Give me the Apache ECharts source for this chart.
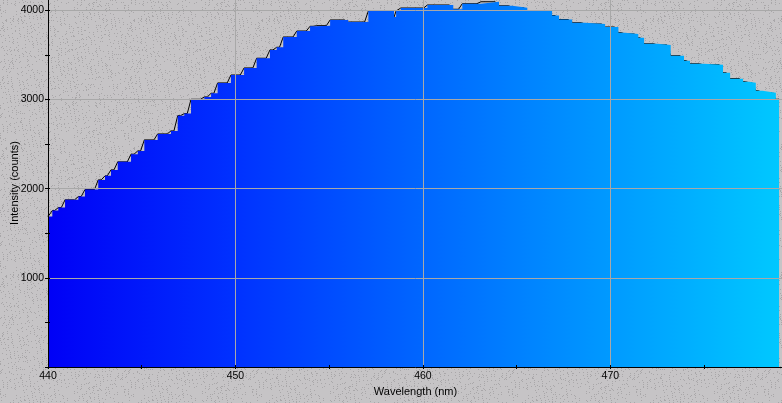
<!DOCTYPE html>
<html><head><meta charset="utf-8">
<script src="https://cdn.jsdelivr.net/npm/echarts@6/dist/echarts.min.js"></script>
<style>html,body{margin:0;padding:0;background:#c6c4c6;} #chart{width:782px;height:403px;}</style>
</head><body><div id="chart"></div>
<script>
// Left edge (nm) of each flat step of the spectrum and its intensity (counts)
const stepStart = [440.00, 440.23, 440.55, 440.91, 441.62, 441.97, 442.68, 443.04, 443.36, 443.72,
  444.43, 444.79, 445.14, 445.85, 446.56, 446.92, 447.27, 447.63, 448.34, 448.70,
  449.05, 449.76, 450.46, 451.13, 451.84, 452.20, 452.55, 453.27, 453.98, 454.34,
  455.05, 456.02, 457.09, 458.46, 458.57, 458.82, 460.24, 461.62, 462.10, 463.09,
  464.06, 464.77, 465.57, 466.89, 467.26, 467.96, 468.65, 469.72, 470.43, 470.79,
  471.49, 471.80, 472.51, 473.22, 473.93, 474.25, 474.95, 476.01, 476.39, 477.08,
  477.40, 477.76, 478.11, 478.83];
const intensity = [1686, 1754, 1787, 1874, 1911, 1989, 2098, 2143, 2210, 2300,
  2386, 2423, 2546, 2613, 2647, 2818, 2841, 3002, 3028, 3069,
  3185, 3274, 3353, 3462, 3555, 3585, 3700, 3767, 3820, 3827,
  3891, 3868, 3992, 3924, 3992, 4025, 4059, 4011, 4073, 4095,
  4050, 4029, 3997, 3941, 3896, 3860, 3846, 3812, 3748, 3734,
  3691, 3624, 3611, 3490, 3435, 3400, 3389, 3299, 3233, 3199,
  3187, 3097, 3075, 3002];
const spectrumEnd = 479.0;
const xTickLabels = [440, 450, 460, 470];
const yTickLabels = [1000, 2000, 3000, 4000];
const xTitle = 'Wavelength (nm)';
const yTitle = 'Intensity (counts)';

// textured grey background
(function(){
  const N = 128;
  const c = document.createElement('canvas'); c.width = N; c.height = N;
  const g = c.getContext('2d');
  g.fillStyle = '#c6c4c6'; g.fillRect(0,0,N,N);
  g.fillStyle = '#a9a7a9';
  let s = 987654;
  const next = () => { s = (s * 1103515245 + 12345) & 0x7fffffff; return (s >>> 12) % N; };
  for (let i = 0; i < 1700; i++) {
    const x = next(); const y = next();
    g.fillRect(x, y, 1, 1);
  }
  document.body.style.backgroundImage = 'url(' + c.toDataURL() + ')';
})();

const stepData = stepStart.map((x, i) => [x, intensity[i]]);
stepData.push([spectrumEnd, intensity[intensity.length - 1]]);
const riser = 0.2;
const lineData = [];
for (let i = 0; i < stepStart.length; i++) {
  lineData.push([stepStart[i], intensity[i]]);
  const nx = i < stepStart.length - 1 ? stepStart[i + 1] : spectrumEnd;
  lineData.push([Math.max(stepStart[i], nx - riser), intensity[i]]);
}
lineData.push([spectrumEnd, intensity[intensity.length - 1]]);

const FONT = 'Liberation Sans';
const XMIN = 440, XMAX = 479.21, YMIN = 0, YMAX = 4126;
const chart = echarts.init(document.getElementById('chart'));
chart.setOption({
  animation: false,
  backgroundColor: 'transparent',
  grid: { left: 48, right: -1, top: -1, bottom: 36, containLabel: false, outerBoundsMode: 'none' },
  xAxis: [
    { type: 'value', min: XMIN, max: XMAX, interval: 10, z: 10,
      axisLine: { show: false }, axisTick: { show: false },
      axisLabel: { margin: 4, color: '#000', fontFamily: FONT, fontSize: 10.5, showMaxLabel: false,
        formatter: v => xTickLabels.includes(v) ? String(v) : '' },
      splitLine: { show: true, lineStyle: { color: '#a8a8a8', width: 1 } },
      name: xTitle, nameLocation: 'middle', nameGap: 19, nameMoveOverlap: false,
      nameTextStyle: { color: '#000', fontFamily: FONT, fontSize: 11 } },
    { type: 'value', min: XMIN, max: XMAX, interval: 5, z: 12, position: 'bottom',
      axisLine: { show: true, lineStyle: { color: '#000', width: 1 } },
      axisTick: { show: true, length: 2, lineStyle: { color: '#000' } },
      axisLabel: { show: false }, splitLine: { show: false } },
    { type: 'value', min: XMIN, max: XMAX, interval: 5, z: 12, position: 'bottom',
      axisLine: { show: false },
      axisTick: { show: true, inside: true, length: 2, lineStyle: { color: '#000' } },
      axisLabel: { show: false }, splitLine: { show: false } }
  ],
  yAxis: [
    { type: 'value', min: YMIN, max: YMAX, interval: 1000, z: 10,
      axisLine: { show: false }, axisTick: { show: false },
      axisLabel: { margin: 4, color: '#000', fontFamily: FONT, fontSize: 10.5, showMaxLabel: false,
        formatter: v => yTickLabels.includes(v) ? String(v) : '' },
      splitLine: { show: true, lineStyle: { color: '#a8a8a8', width: 1 } },
      name: yTitle, nameLocation: 'middle', nameGap: 28, nameMoveOverlap: false,
      nameTextStyle: { color: '#000', fontFamily: FONT, fontSize: 11 } },
    { type: 'value', min: YMIN, max: YMAX, interval: 500, z: 12, position: 'left',
      axisLine: { show: true, lineStyle: { color: '#000', width: 1 } },
      axisTick: { show: true, length: 3, lineStyle: { color: '#000' } },
      axisLabel: { show: false }, splitLine: { show: false } },
    { type: 'value', min: YMIN, max: YMAX, interval: 500, z: 12, position: 'left',
      axisLine: { show: false },
      axisTick: { show: true, inside: true, length: 2, lineStyle: { color: '#000' } },
      axisLabel: { show: false }, splitLine: { show: false } }
  ],
  series: [
    { type: 'line', data: lineData, symbol: 'none', xAxisIndex: 0, yAxisIndex: 0, z: 2,
      lineStyle: { color: '#000', width: 1 }, silent: true },
    { type: 'line', data: stepData, step: 'end', symbol: 'none', xAxisIndex: 0, yAxisIndex: 0, z: 3,
      lineStyle: { width: 0 },
      areaStyle: { opacity: 1, color: new echarts.graphic.LinearGradient(0, 0, 1, 0, [
        { offset: 0, color: '#0000f6' },
        { offset: 0.25, color: '#0030ff' },
        { offset: 0.5, color: '#0064ff' },
        { offset: 0.75, color: '#0096ff' },
        { offset: 1, color: '#00c8ff' }
      ]) }, silent: true }
  ]
});
</script>
</body></html>
